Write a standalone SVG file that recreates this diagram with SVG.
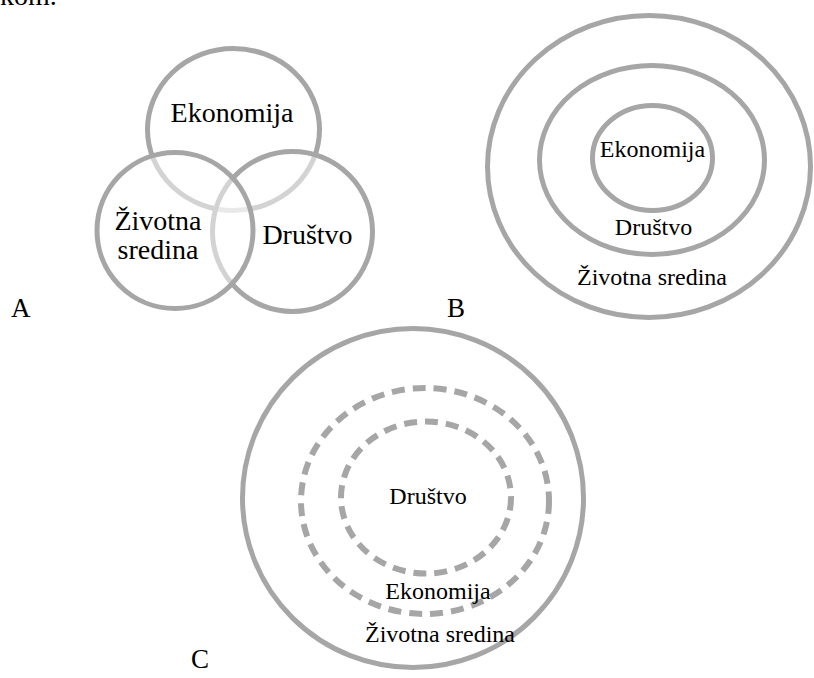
<svg xmlns="http://www.w3.org/2000/svg" width="814" height="678" viewBox="0 0 814 678">
  <style>
    .ring { fill: none; stroke: #a6a6a6; stroke-width: 5; }
    .veil { fill: #ffffff; fill-opacity: 0.5; stroke: #a6a6a6; stroke-width: 5; }
    .dash { fill: none; stroke: #a6a6a6; stroke-width: 6; stroke-dasharray: 13 8; }
    .big { font-size: 28px; }
    .mid { font-size: 24px; }
    .tag { font-size: 27px; }
  </style>
  <rect width="814" height="678" fill="#ffffff"/>

  <g font-family="'Liberation Serif', 'Times New Roman', Tinos, 'DejaVu Serif', serif" fill="#000000">
    <text class="big" x="0" y="5">kom.</text>

    <!-- Model A: three overlapping circles -->
    <g id="a-ekonomija">
      <ellipse class="ring" cx="233.5" cy="129.5" rx="86" ry="81"/>
      <text class="big" x="232" y="121.5" text-anchor="middle">Ekonomija</text>
    </g>
    <g id="a-drustvo">
      <circle class="veil" cx="292.5" cy="231.5" r="80"/>
    </g>
    <g id="a-zivotna">
      <circle class="veil" cx="175" cy="230.5" r="78"/>
    </g>
    <g id="a-labels">
      <text class="big" x="158" y="230" text-anchor="middle">Životna</text>
      <text class="big" x="158" y="258.5" text-anchor="middle">sredina</text>
      <text class="big" x="307.5" y="243.5" text-anchor="middle">Društvo</text>
    </g>
    <text class="tag" x="11" y="317">A</text>

    <!-- Model B: nested rings -->
    <g id="b-zivotna">
      <ellipse class="ring" cx="649" cy="166.5" rx="161.5" ry="151"/>
      <text class="mid" x="652" y="285" text-anchor="middle">Životna sredina</text>
    </g>
    <g id="b-drustvo">
      <ellipse class="ring" cx="652" cy="160" rx="112.5" ry="94.5"/>
      <text class="mid" x="653.5" y="235" text-anchor="middle">Društvo</text>
    </g>
    <g id="b-ekonomija">
      <ellipse class="ring" cx="652.5" cy="158" rx="60" ry="52.5"/>
      <text class="mid" x="652.5" y="157" text-anchor="middle">Ekonomija</text>
    </g>
    <text class="tag" x="447" y="317">B</text>

    <!-- Model C: solid outer ring, dashed inner rings -->
    <g id="c-zivotna">
      <ellipse class="ring" cx="413" cy="498" rx="170.5" ry="169.5"/>
      <text class="mid" x="440" y="641.5" text-anchor="middle">Životna sredina</text>
    </g>
    <g id="c-ekonomija">
      <ellipse class="dash" cx="425" cy="501" rx="124" ry="113"/>
      <text class="mid" x="438" y="598.5" text-anchor="middle">Ekonomija</text>
    </g>
    <g id="c-drustvo">
      <ellipse class="dash" cx="426" cy="497.5" rx="85" ry="76"/>
      <text class="mid" x="428" y="503.5" text-anchor="middle">Društvo</text>
    </g>
    <text class="tag" x="191" y="668">C</text>
  </g>

  <g id="connectors"/>
</svg>
